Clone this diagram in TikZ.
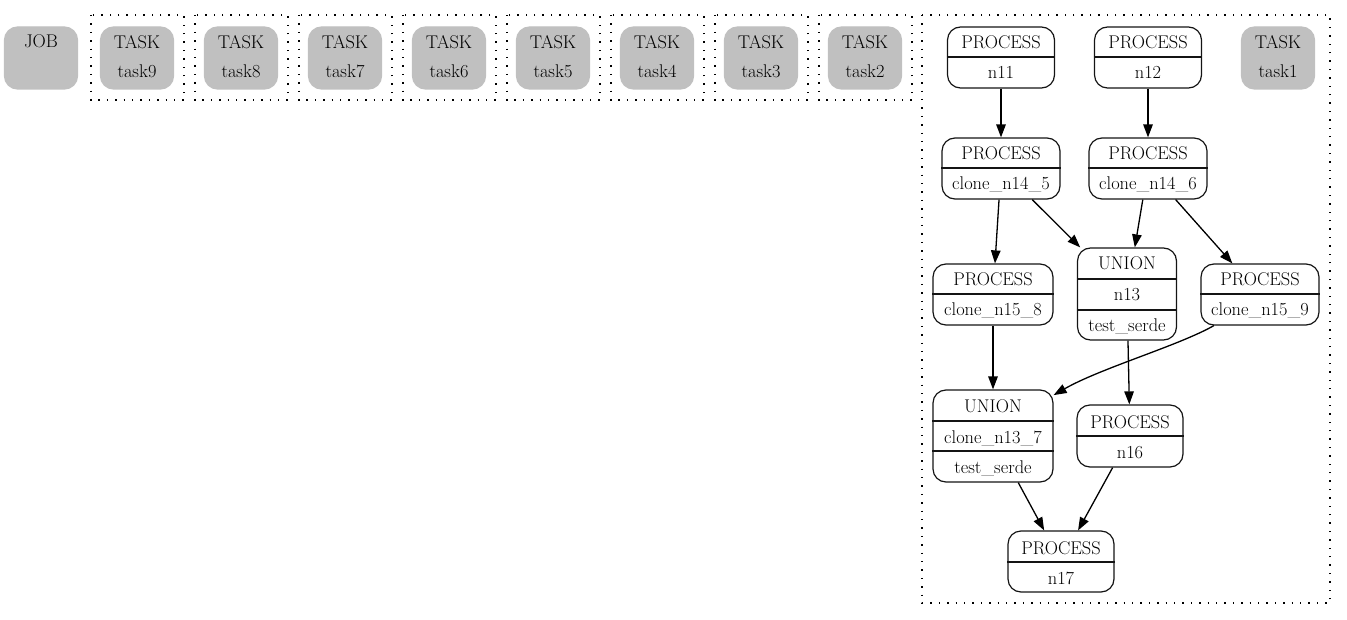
\documentclass[tikz,border=0pt]{standalone}
\usepackage{fontspec}
\usetikzlibrary{arrows.meta}
\definecolor{boxgray}{RGB}{192,192,192}
\definecolor{edgec}{RGB}{20,20,20}
\begin{document}
\begin{tikzpicture}[x=1pt,y=-1pt,
 rec/.style={draw=edgec, line width=1.2pt, rounded corners=13pt, inner sep=0pt},
 graybox/.style={fill=boxgray, draw=boxgray, line width=1.2pt, rounded corners=13pt, inner sep=0pt, minimum width=73pt, minimum height=62pt},
 lbl/.style={anchor=base, inner sep=0pt, font=\fontsize{18.4}{22}\selectfont},
 div/.style={draw=edgec, line width=1.2pt},
 clus/.style={line width=1.4pt, dash pattern=on 1.4pt off 7pt},
 edge/.style={line width=1.3pt, -{Triangle[length=13pt,width=9.5pt]}}
]
\useasboundingbox (0,0) rectangle (1347,620);

% JOB
\node[graybox] (job) at (41,58) {};
\node[lbl] (jobl) at (41,48) {JOB};

% task clusters
\foreach \i/\t in {0/9,1/8,2/7,3/6,4/5,5/4,6/3,7/2}{
  \draw[clus] ({91+104*\i},15) rectangle ({184+104*\i},100);
  \node[graybox] (t\t) at ({137+104*\i},58) {};
  \node[lbl] (t\t a) at ({137+104*\i},49) {TASK};
  \node[lbl] (t\t b) at ({137+104*\i},78) {task\t};
}

% big cluster
\draw[clus] (922,15) rectangle (1330,603);

\node[graybox] (t1) at (1278,58) {};
\node[lbl] (t1a) at (1278,49) {TASK};
\node[lbl] (t1b) at (1278,78) {task1};

% n11
\node[rec, minimum width=107pt, minimum height=61pt] (n11) at (1001,57.5) {};
\draw[div] (n11.west |- 0,57) -- (n11.east |- 0,57);
\node[lbl] (n11a) at (1001,49) {PROCESS};
\node[lbl] (n11b) at (1001,79) {n11};

% n12
\node[rec, minimum width=107pt, minimum height=61pt] (n12) at (1148,57.5) {};
\draw[div] (n12.west |- 0,57) -- (n12.east |- 0,57);
\node[lbl] (n12a) at (1148,49) {PROCESS};
\node[lbl] (n12b) at (1148,79) {n12};

% clone_n14_5
\node[rec, minimum width=118pt, minimum height=61pt] (c145) at (1001,168.5) {};
\draw[div] (c145.west |- 0,168) -- (c145.east |- 0,168);
\node[lbl] (c145a) at (1001,160) {PROCESS};
\node[lbl] (c145b) at (1001,190) {clone\_n14\_5};

% clone_n14_6
\node[rec, minimum width=118pt, minimum height=61pt] (c146) at (1148,168.5) {};
\draw[div] (c146.west |- 0,168) -- (c146.east |- 0,168);
\node[lbl] (c146a) at (1148,160) {PROCESS};
\node[lbl] (c146b) at (1148,190) {clone\_n14\_6};

% clone_n15_8
\node[rec, minimum width=120pt, minimum height=61pt] (c158) at (993,294.5) {};
\draw[div] (c158.west |- 0,294) -- (c158.east |- 0,294);
\node[lbl] (c158a) at (993,286) {PROCESS};
\node[lbl] (c158b) at (993,316) {clone\_n15\_8};

% n13
\node[rec, minimum width=99pt, minimum height=92pt] (n13) at (1127,294) {};
\draw[div] (n13.west |- 0,279) -- (n13.east |- 0,279);
\draw[div] (n13.west |- 0,310) -- (n13.east |- 0,310);
\node[lbl] (n13a) at (1127,270) {UNION};
\node[lbl] (n13b) at (1127,301) {n13};
\node[lbl] (n13c) at (1127,331) {test\_serde};

% clone_n15_9
\node[rec, minimum width=118pt, minimum height=61pt] (c159) at (1260,294.5) {};
\draw[div] (c159.west |- 0,294) -- (c159.east |- 0,294);
\node[lbl] (c159a) at (1260,286) {PROCESS};
\node[lbl] (c159b) at (1260,316) {clone\_n15\_9};

% clone_n13_7
\node[rec, minimum width=120pt, minimum height=92pt] (c137) at (993,436) {};
\draw[div] (c137.west |- 0,421) -- (c137.east |- 0,421);
\draw[div] (c137.west |- 0,451) -- (c137.east |- 0,451);
\node[lbl] (c137a) at (993,412) {UNION};
\node[lbl] (c137b) at (993,443) {clone\_n13\_7};
\node[lbl] (c137c) at (993,473) {test\_serde};

% n16
\node[rec, minimum width=106pt, minimum height=62pt] (n16) at (1130,436) {};
\draw[div] (n16.west |- 0,436) -- (n16.east |- 0,436);
\node[lbl] (n16a) at (1130,428) {PROCESS};
\node[lbl] (n16b) at (1130,458) {n16};

% n17
\node[rec, minimum width=106pt, minimum height=61pt] (n17) at (1061,561.5) {};
\draw[div] (n17.west |- 0,562) -- (n17.east |- 0,562);
\node[lbl] (n17a) at (1061,554) {PROCESS};
\node[lbl] (n17b) at (1061,584) {n17};

% edges
\draw[edge] (n11) -- (c145);
\draw[edge] (n12) -- (c146);
\draw[edge] (c145) -- (c158);
\draw[edge] (c145) -- (n13);
\draw[edge] (c146) -- (n13);
\draw[edge] (c146) -- (c159);
\draw[edge] (c158) -- (c137);
\draw[edge] (n13) -- (n16);
\draw[edge] (c159.214) .. controls +(-35,20) and +(47,-27) .. (c137.34);
\draw[edge] (c137) -- (n17);
\draw[edge] (n16) -- (n17);
\end{tikzpicture}
\end{document}
